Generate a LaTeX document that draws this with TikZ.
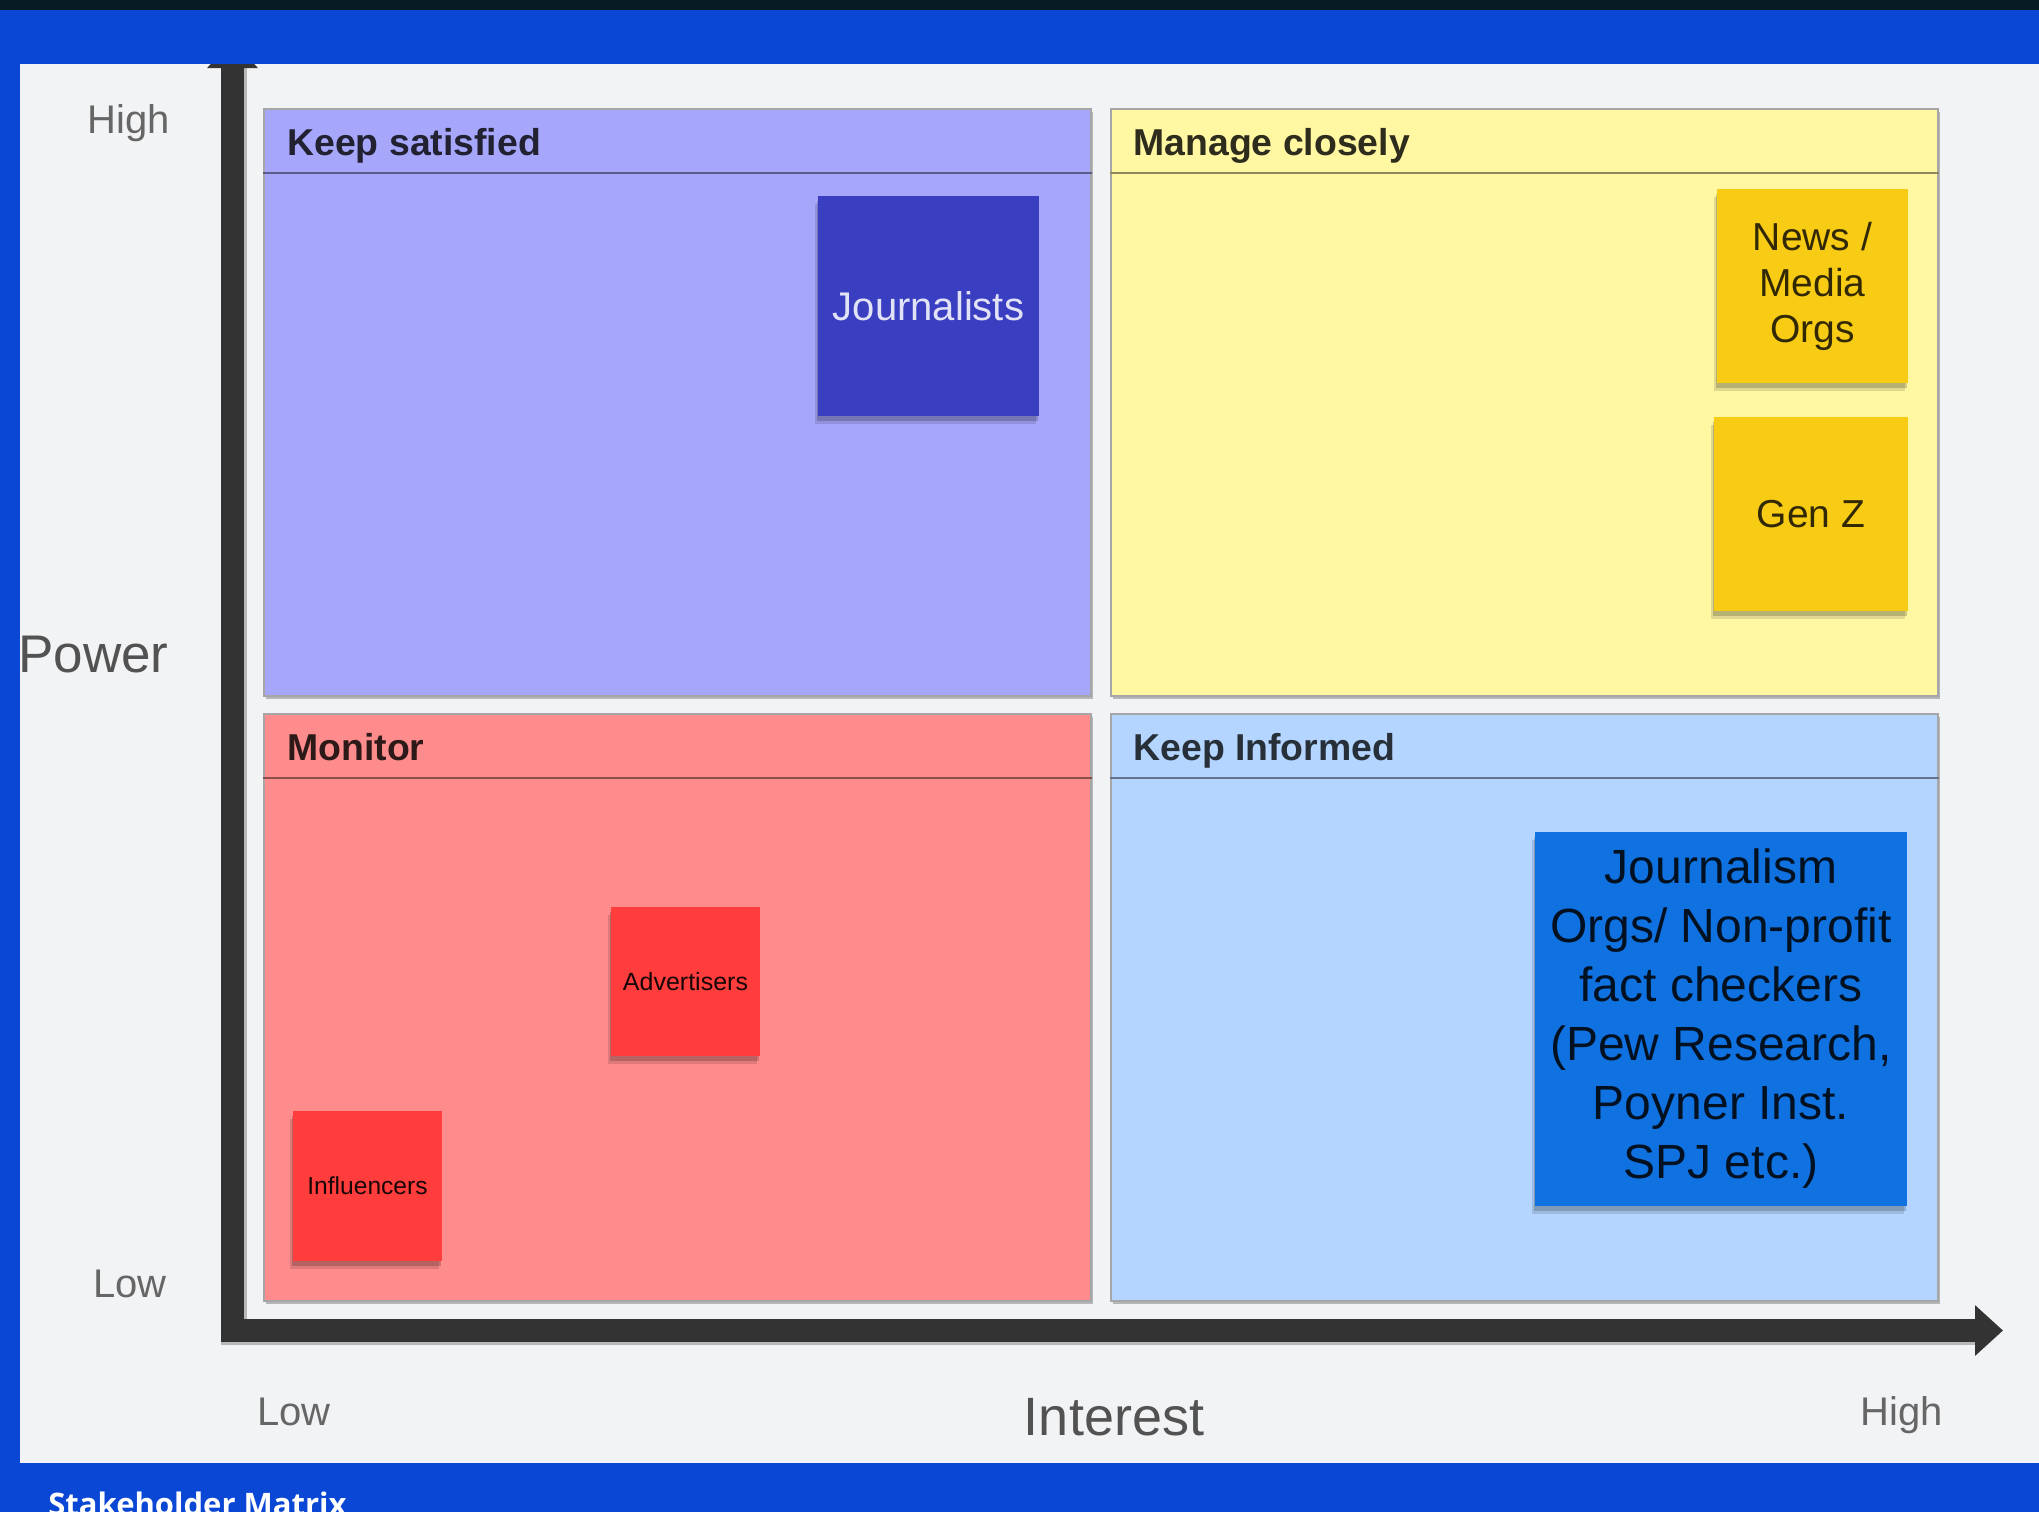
\documentclass[tikz,border=0pt]{standalone}
\usepackage{fontspec}
\setmainfont{Liberation Sans}
\newfontfamily\capfont{Open Sans}
\usetikzlibrary{arrows.meta,calc,shadows}
\definecolor{bandblue}{HTML}{0B47D5}
\definecolor{topdark}{HTML}{061C22}
\definecolor{panel}{HTML}{F2F3F5}
\definecolor{axisc}{HTML}{333333}
\definecolor{ksfill}{HTML}{A6A6FB}
\definecolor{mcfill}{HTML}{FFF7A2}
\definecolor{mofill}{HTML}{FF8C8C}
\definecolor{kifill}{HTML}{B3D5FF}
\definecolor{jourfill}{HTML}{3A3EC1}
\definecolor{yelsticky}{HTML}{F8CC14}
\definecolor{redsticky}{HTML}{FF3D3D}
\definecolor{bluesticky}{HTML}{1072E0}
\definecolor{labelgray}{HTML}{666666}
\tikzset{
  quad/.style={rectangle, anchor=north west, inner sep=0, draw=black!35, line width=1pt,
    minimum width=413.5pt, minimum height=293.5pt,
    drop shadow={shadow xshift=1pt, shadow yshift=-1.5pt, opacity=0.25, fill=black}},
  headtxt/.style={anchor=base west, inner sep=0, font=\fontsize{18.7pt}{22pt}\selectfont\bfseries},
  sticky/.style={rectangle, inner sep=0, align=center,
    drop shadow={shadow xshift=-1.5pt, shadow yshift=-4pt, opacity=0.12, fill=black},
    drop shadow={shadow xshift=-0.5pt, shadow yshift=-2.5pt, opacity=0.18, fill=black}},
  axlabel/.style={inner sep=0, text=labelgray, font=\fontsize{20pt}{24pt}\selectfont},
  axisline/.style={line width=11.5pt, color=axisc, line cap=butt,
    -{Triangle[length=14pt, width=24.5pt]}},
  axisshadow/.style={line width=11.5pt, color=black!28, line cap=butt},
}
\begin{document}
\begin{tikzpicture}[x=0.5pt,y=-0.5pt]
% background
\fill[bandblue] (0,0) rectangle (2039,1512);
\fill[panel] (20,64) rectangle (2039,1463);
\useasboundingbox (0,0) rectangle (2039,1512);

% quadrants
\node[quad, fill=ksfill] (ks) at (263,108) {};
\node[quad, fill=mcfill] (mc) at (1110,108) {};
\node[quad, fill=mofill] (mo) at (263,713) {};
\node[quad, fill=kifill] (ki) at (1110,713) {};

\draw[line width=1.2pt, color=ksfill!55!black] ($(ks.north west)+(0,65)$) -- ($(ks.north east)+(0,65)$);
\draw[line width=1.2pt, color=mcfill!55!black] ($(mc.north west)+(0,65)$) -- ($(mc.north east)+(0,65)$);
\draw[line width=1.2pt, color=mofill!55!black] ($(mo.north west)+(0,65)$) -- ($(mo.north east)+(0,65)$);
\draw[line width=1.2pt, color=kifill!55!black] ($(ki.north west)+(0,65)$) -- ($(ki.north east)+(0,65)$);

\node[headtxt, text=ksfill!20!black] (kst) at ($(ks.north west)+(24,47)$) {Keep satisfied};
\node[headtxt, text=mcfill!18!black] (mct) at ($(mc.north west)+(23,47)$) {Manage closely};
\node[headtxt, text=mofill!18!black] (mot) at ($(mo.north west)+(24,47)$) {Monitor};
\node[headtxt, text=kifill!22!black] (kit) at ($(ki.north west)+(23,47)$) {Keep Informed};

% stickies
\node[sticky, fill=jourfill, minimum width=110.5pt, minimum height=110pt,
  text=white!85!jourfill, font=\fontsize{20pt}{24pt}\selectfont] (journalists) at (928.5,306) {Journalists};
\node[sticky, fill=yelsticky, minimum width=95.5pt, minimum height=97pt,
  text=yelsticky!20!black, font=\fontsize{19.5pt}{23pt}\selectfont] (news) at (1812.5,286) {News /\\Media\\Orgs};
\node[sticky, fill=yelsticky, minimum width=97pt, minimum height=97pt,
  text=yelsticky!20!black, font=\fontsize{19.5pt}{23pt}\selectfont] (genz) at (1811,514) {Gen Z};
\node[sticky, fill=redsticky, minimum width=74.5pt, minimum height=74.5pt,
  text=black!90!redsticky, font=\fontsize{12.5pt}{15pt}\selectfont] (advertisers) at (685.5,981.5) {Advertisers};
\node[sticky, fill=redsticky, minimum width=74.5pt, minimum height=75pt,
  text=black!90!redsticky, font=\fontsize{12.3pt}{15pt}\selectfont] (influencers) at (367.5,1186) {Influencers};
\node[sticky, fill=bluesticky, minimum width=186pt, minimum height=187pt,
  text=bluesticky!15!black, font=\fontsize{24pt}{29.5pt}\selectfont] (jorgs) at (1721,1019)
  {Journalism\\Orgs/ Non-profit\\fact checkers\\(Pew Research,\\Poyner Inst.\\SPJ etc.)};

% axes
\coordinate (origin) at (232.5,1342);
\coordinate (ytop) at (232.5,40);
\coordinate (xstart) at (221,1330.5);
\coordinate (xend) at (2003,1330.5);
\draw[axisshadow] ($(origin)+(3,0)$) -- ($(ytop)+(3,0)$);
\draw[axisshadow] ($(xstart)+(0,3)$) -- ($(xend)+(-28,3)$);
\draw[axisline] (origin) -- (ytop);
\draw[axisline] (xstart) -- (xend);

% axis labels
\node[axlabel, anchor=base west] (yhigh) at (87,133) {High};
\node[axlabel, anchor=base west] (ylow) at (93,1297) {Low};
\node[axlabel, anchor=base west, text=black!68, font=\fontsize{26.5pt}{30pt}\selectfont] (power) at (18,672) {Power};
\node[axlabel, anchor=base west] (xlow) at (257,1425) {Low};
\node[axlabel, anchor=base west] (xhigh) at (1860,1425) {High};
\node[axlabel, anchor=base, text=black!68, font=\fontsize{27pt}{32pt}\selectfont] (interest) at (1114,1435) {Interest};

% top bands over the axis head
\fill[bandblue] (0,10) rectangle (2039,64);
\fill[topdark] (0,0) rectangle (2039,10);

% caption
\node[anchor=base west, inner sep=0, text=white, font=\capfont\bfseries\fontsize{15.5pt}{18pt}\selectfont] (caption) at (48,1515) {Stakeholder Matrix};
\end{tikzpicture}
\end{document}
